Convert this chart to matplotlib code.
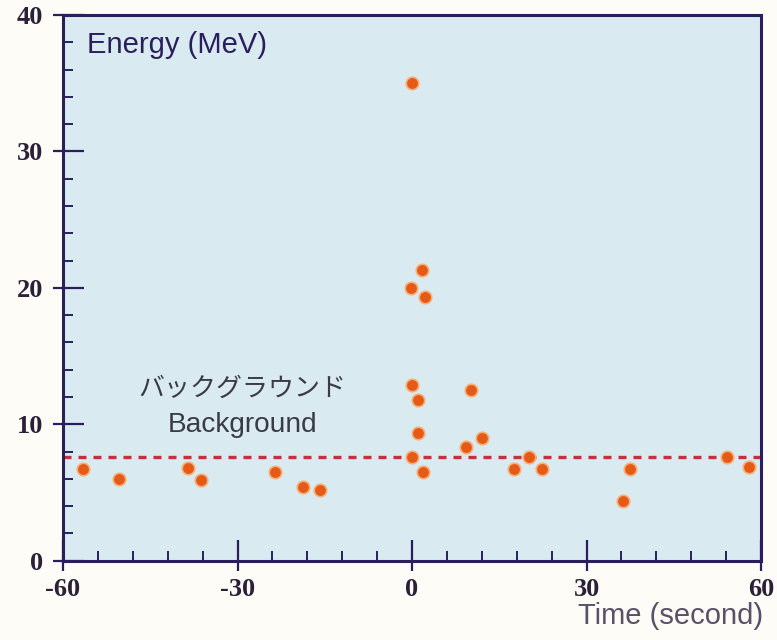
import matplotlib
matplotlib.use("Agg")
import matplotlib.pyplot as plt
from matplotlib.ticker import MultipleLocator

# Event times (s) relative to the burst and their energies (MeV)
time_s = [-56.5, -50.4, -38.5, -36.3, -23.5, -18.7, -15.8,
          0.0, 1.7, -0.1, 2.2, 0.0, 1.1, 10.2, 1.0, 12.0, 9.3, 0.0, 1.9,
          17.5, 20.1, 22.4, 36.3, 37.4, 54.1, 57.9]
energy_mev = [6.70, 5.99, 6.77, 5.92, 6.52, 5.43, 5.18,
              35.0, 21.3, 20.0, 19.35, 12.88, 11.78, 12.51, 9.38, 8.97, 8.37, 7.57, 6.50,
              6.70, 7.58, 6.70, 4.38, 6.70, 7.58, 6.85]
background_level = 7.6

x_ticks = [-60, -30, 0, 30, 60]
y_ticks = [0, 10, 20, 30, 40]

navy = "#2a1f5c"
fig = plt.figure(figsize=(7.77, 6.4), dpi=100, facecolor="#fdfcf6")
ax = fig.add_axes([63 / 777, 1 - 560.7 / 640, (761 - 63) / 777, (560.7 - 15) / 640])
ax.set_facecolor("#d9eaf0")
ax.set_xlim(-60, 60)
ax.set_ylim(0, 40)

for s in ax.spines.values():
    s.set_color(navy)
    s.set_linewidth(2.2)

# inward ticks on the main axes (no labels)
ax.xaxis.set_major_locator(MultipleLocator(30))
ax.xaxis.set_minor_locator(MultipleLocator(6))
ax.yaxis.set_major_locator(MultipleLocator(10))
ax.yaxis.set_minor_locator(MultipleLocator(2))
ax.tick_params(which="major", direction="in", length=15, width=1.6, color=navy,
               labelbottom=False, labelleft=False)
ax.tick_params(which="minor", direction="in", length=7, width=1.4, color=navy)

# outward stubs plus the numeric labels
label_font = dict(family="Liberation Serif", weight="bold", size=19)
sx = ax.secondary_xaxis("bottom")
sx.set_xticks(x_ticks)
sx.set_xticklabels([str(v) for v in x_ticks], fontdict=label_font, color="#2c2038")
sx.tick_params(direction="out", length=7.5, width=1.6, color=navy, pad=5)
sx.spines["bottom"].set_visible(False)
sy = ax.secondary_yaxis("left")
sy.set_yticks(y_ticks)
sy.set_yticklabels([str(v) for v in y_ticks], fontdict=label_font, color="#2c2038")
sy.tick_params(direction="out", length=7.5, width=1.6, color=navy, pad=7)
sy.spines["left"].set_visible(False)

ax.axhline(background_level, color="#c2323c", lw=2.4, ls=(0, (2.4, 2.1)), zorder=2)
ax.plot(time_s, energy_mev, "o", ms=9, mfc="#e65a18", mec="#f6b07a", mew=1.2,
        ls="none", zorder=3, clip_on=False)

ax.text(-55.9, 37.2, "Energy (MeV)", family="Liberation Sans", size=21,
        color=navy, ha="left", va="baseline")
ax.text(-29.1, 12.66, "バックグラウンド", family=["Noto Sans CJK JP", "DejaVu Sans"],
        size=18.7, color="#3b3b48", ha="center", va="center")
ax.text(-29.1, 9.46, "Background", family="Liberation Sans", size=20.2,
        color="#3b3b48", ha="center", va="baseline")
fig.text(763 / 777, 1 - 624 / 640, "Time (second)", family="Liberation Sans",
         size=21, color="#5a5068", ha="right", va="baseline")

fig.savefig("out.png", dpi=100, facecolor=fig.get_facecolor())
